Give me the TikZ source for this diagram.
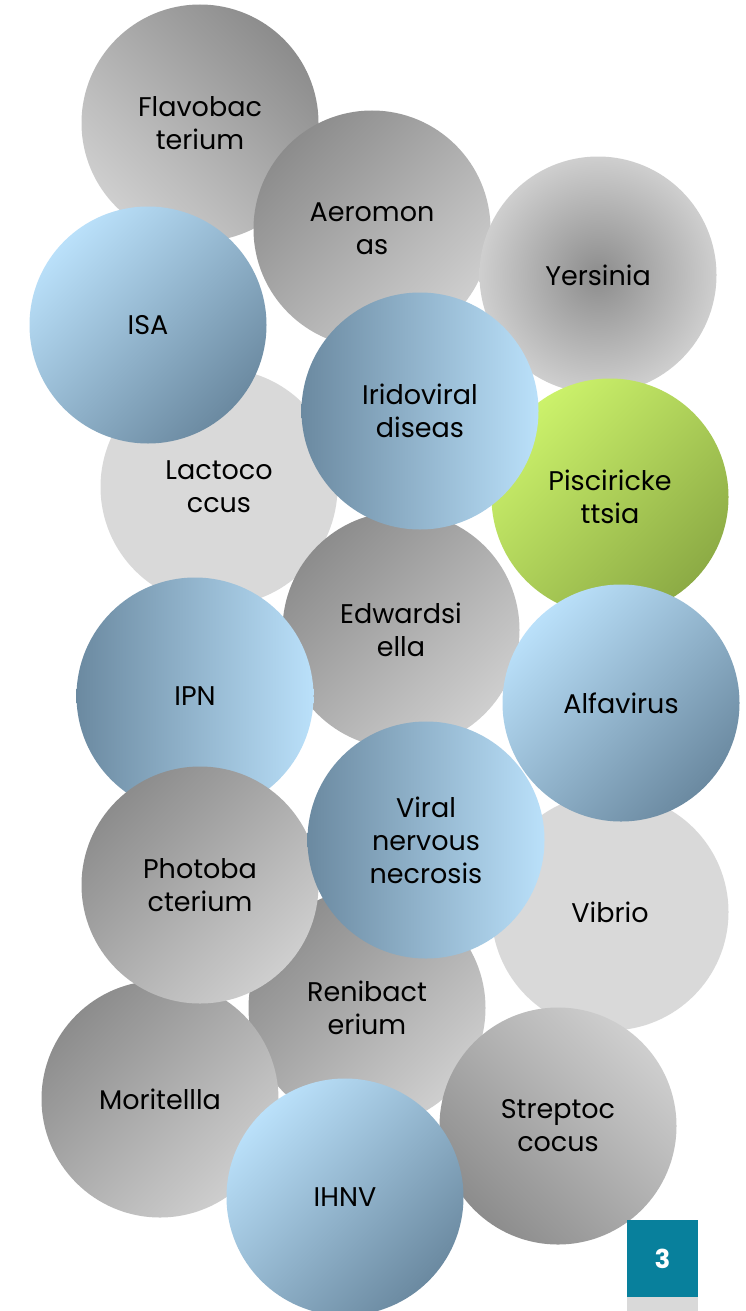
\documentclass[tikz,border=0pt]{standalone}
\usepackage{fontspec}
\setmainfont{Poppins}
\usepackage{tikz}
\usetikzlibrary{shapes.misc, calc, positioning}
\usepackage{xcolor}
\definecolor{greydark}{rgb}{0.55, 0.55, 0.55}
\definecolor{greylight}{rgb}{0.81, 0.81, 0.81}
\definecolor{greyflat}{rgb}{0.85, 0.85, 0.85}
\definecolor{bluelight}{rgb}{0.73, 0.88, 0.98}
\definecolor{bluedark}{rgb}{0.42, 0.54, 0.63}
\definecolor{greenlight}{rgb}{0.80, 0.95, 0.42}
\definecolor{greendark}{rgb}{0.55, 0.67, 0.27}
\definecolor{pageteal}{rgb}{0.03, 0.50, 0.61}

\begin{document}
\begin{tikzpicture}[x=1pt,y=-1pt]
    \tikzstyle{bubble}=[circle, minimum size=237pt, inner sep=0pt, align=center,
        font=\fontsize{27}{33}\selectfont]
    % grey bubbles
    \tikzstyle{greyTL}=[bubble, top color=greydark, bottom color=greylight, shading angle=45]
    \tikzstyle{greyTR}=[bubble, top color=greydark, bottom color=greylight, shading angle=-45]
    \tikzstyle{greyBL}=[bubble, top color=greylight, bottom color=greydark, shading angle=-45]
    \tikzstyle{greyRad}=[bubble, inner color=greydark, outer color=greylight]
    \tikzstyle{greyFlat}=[bubble, fill=greyflat]
    % blue bubbles
    \tikzstyle{blueTL}=[bubble, top color=bluelight, bottom color=bluedark, shading angle=45]
    \tikzstyle{blueLR}=[bubble, left color=bluedark, right color=bluelight]
    % green bubble
    \tikzstyle{greenTL}=[bubble, top color=greenlight, bottom color=greendark, shading angle=45]

    \useasboundingbox (0,0) rectangle (745,1311);

    % Top rows
    \node (flavo)[greyTR] at (200,123) {Flavobac\\terium};
    \node (aero)[greyTL] at (372,229) {Aeromon\\as};
    \node (yers)[greyRad] at (598,275) {Yersinia};
    \node (lacto)[greyFlat] at (219,487) {Lactoco\\ccus};
    \node (isa)[blueTL] at (148,325) {ISA};
    \node (pisc)[greenTL] at (610,497) {Pisciricke\\ttsia};
    \node (edw)[greyTL] at (401,630) {Edwardsi\\ella};
    \node (irido)[blueLR] at (420,411) {Iridoviral\\diseas};

    % Middle rows
    \node (ipn)[blueLR] at (195,696) {IPN};
    \node (vibrio)[greyFlat] at (610,912) {Vibrio};
    \node (alfa)[blueTL] at (621,703) {Alfavirus};
    \node (reni)[greyTL] at (367,1008) {Renibact\\erium};
    \node (morit)[greyTL] at (160,1099) {Moritellla};
    \node (photo)[greyTL] at (200,885) {Photoba\\cterium};
    \node (vnn)[blueLR] at (426,840) {Viral\\nervous\\necrosis};

    % Bottom rows
    \node (strep)[greyBL] at (558,1126) {Streptoc\\cocus};
    \node (ihnv)[blueTL] at (345,1197) {IHNV};

    % Page number
    \fill[greyflat] (627,1297) rectangle (698,1311);
    \node (page)[fill=pageteal, minimum width=71pt, minimum height=77pt, inner sep=0pt,
        text=white, font=\bfseries\fontsize{26}{30}\selectfont] at (662.5,1258.5) {3};
\end{tikzpicture}
\end{document}
